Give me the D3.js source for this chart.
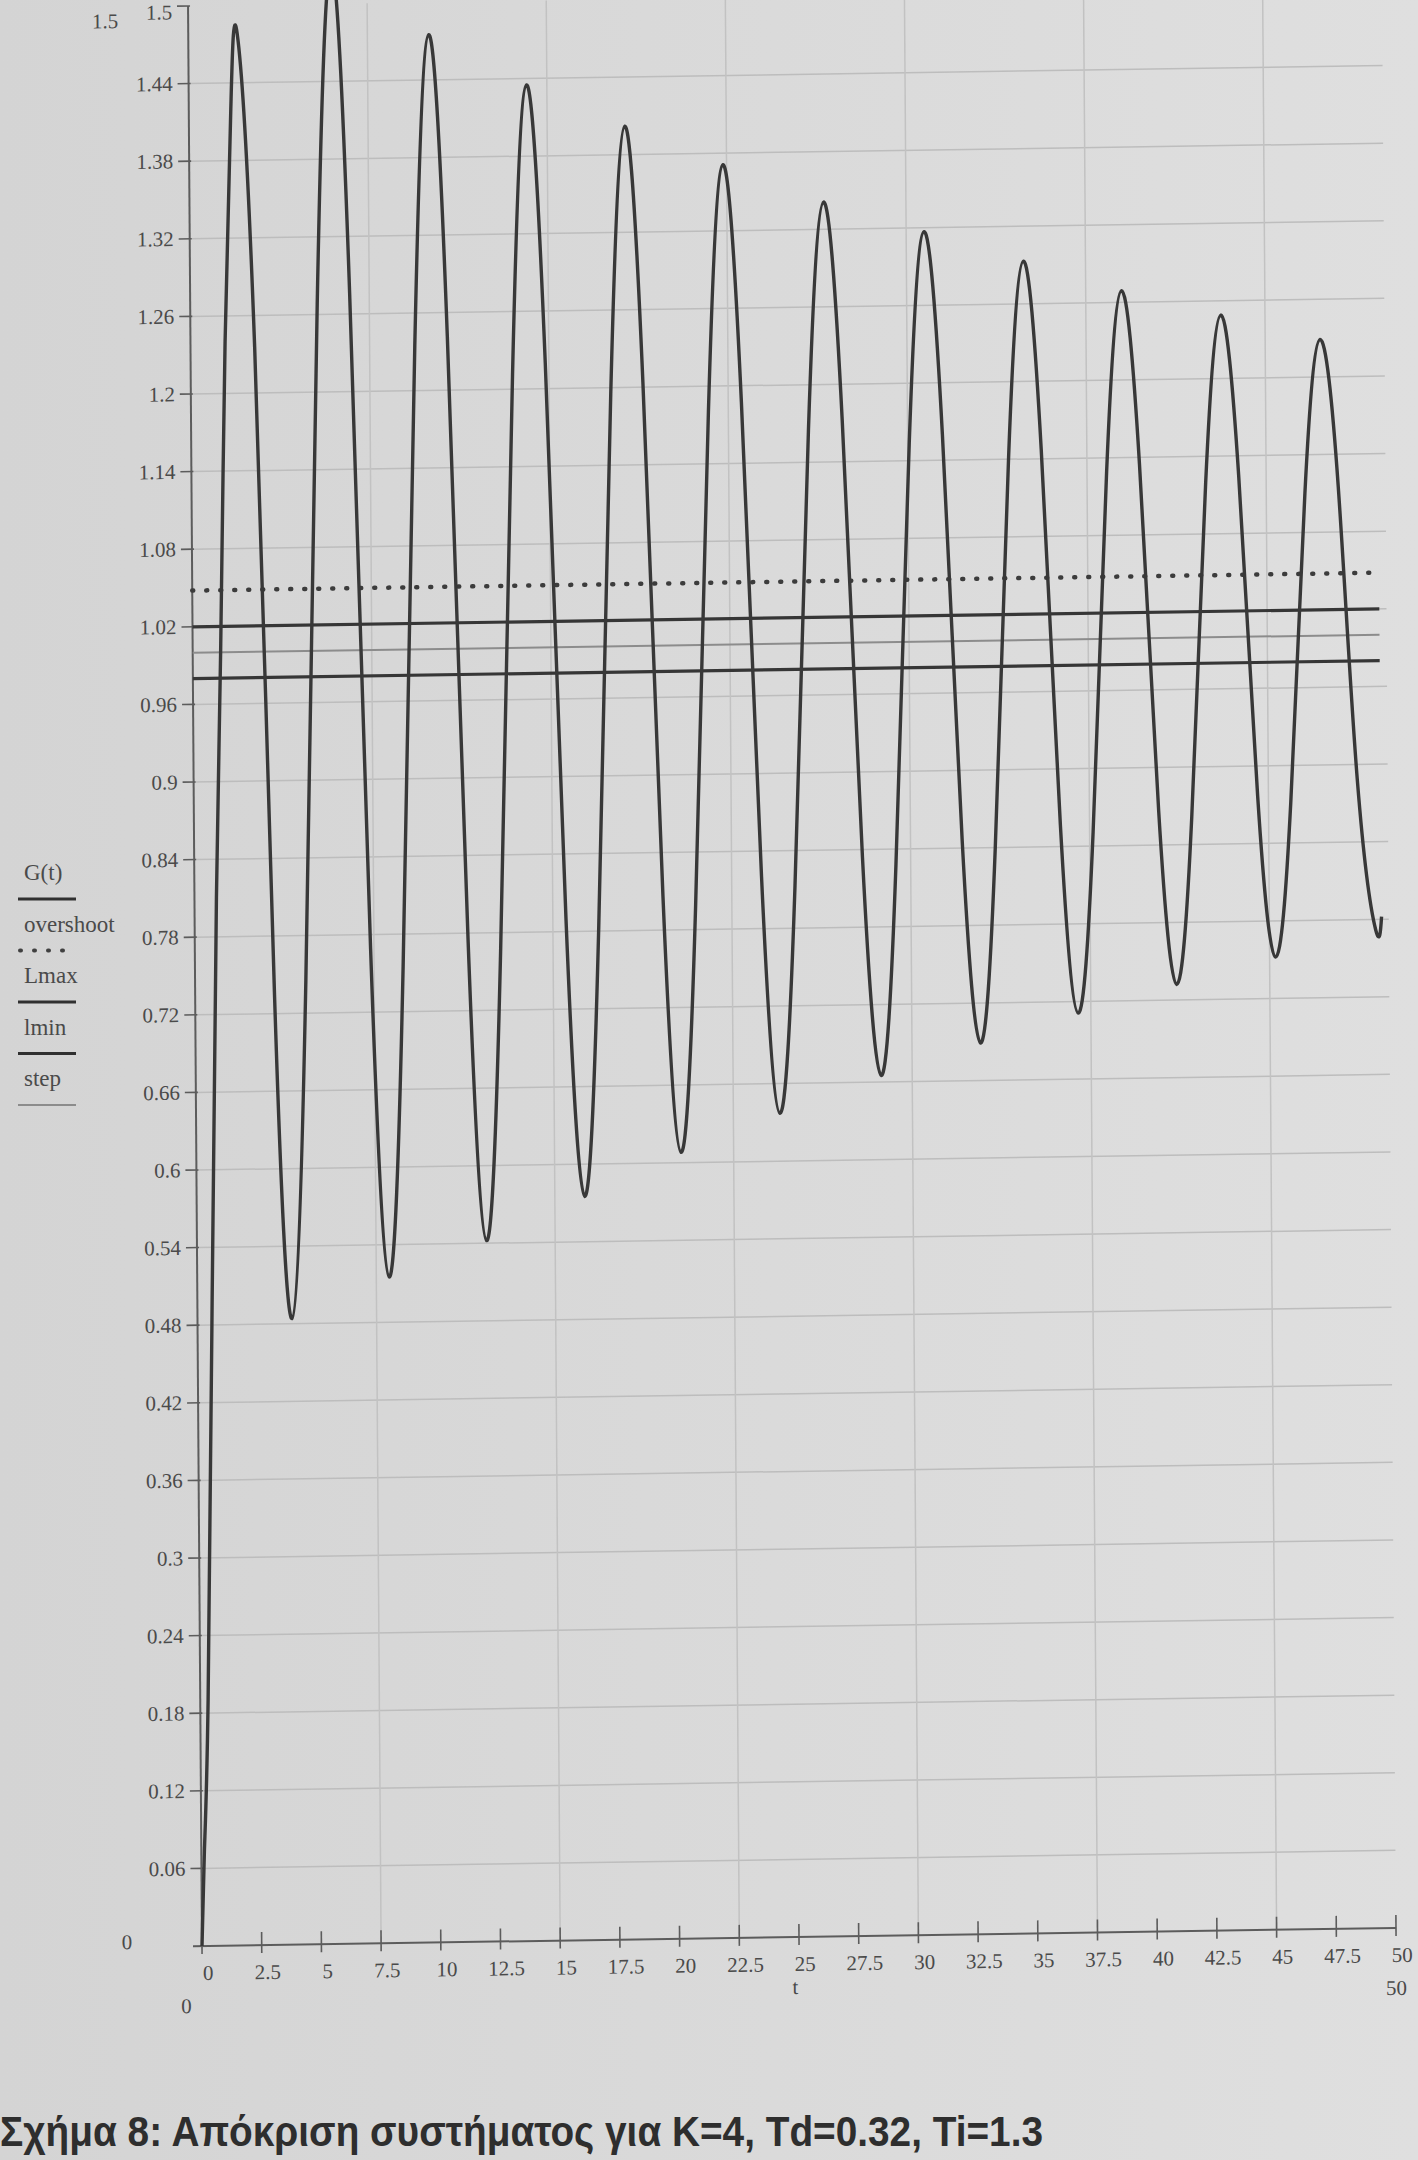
<!DOCTYPE html>
<html><head><meta charset="utf-8">
<script src="https://cdn.jsdelivr.net/npm/d3@7"></script>
<style>html,body{margin:0;padding:0;background:#d9d9d9;} svg{display:block}</style>
</head><body>
<svg id="c" width="1418" height="2160"></svg>
<script>
// ---- data ----
const xTicks = [0,2.5,5,7.5,10,12.5,15,17.5,20,22.5,25,27.5,30,32.5,35,37.5,40,42.5,45,47.5,50];
const yTicks = [0.06,0.12,0.18,0.24,0.3,0.36,0.42,0.48,0.54,0.6,0.66,0.72,0.78,0.84,0.9,0.96,1.02,1.08,1.14,1.2,1.26,1.32,1.38,1.44,1.5];
const xGrid = [7.5,15,22.5,30,37.5,45];
const yGrid = [0.06,0.12,0.18,0.24,0.3,0.36,0.42,0.48,0.54,0.6,0.66,0.72,0.78,0.84,0.9,0.96,1.02,1.08,1.14,1.2,1.26,1.32,1.38,1.44];
const gT = [0,0.13,0.33,0.62,0.92,1.17,1.45,1.76,2.05,
 2.687,3.323,3.96, 4.64,5.32,6.0, 6.68,7.36,8.04, 8.717,9.393,10.07,
 10.757,11.443,12.13, 12.803,13.477,14.15, 14.85,15.55,16.25, 16.917,17.583,18.25,
 18.933,19.617,20.3, 20.983,21.667,22.35, 23.05,23.75,24.45, 25.15,25.85,26.55,
 27.267,27.983,28.7, 29.383,30.067,30.75, 31.457,32.163,32.87, 33.547,34.223,34.9,
 35.59,36.28,36.97, 37.647,38.323,39.0, 39.7,40.4,41.1, 41.783,42.467,43.15,
 43.85,44.55,45.25, 45.933,46.617,47.3, 48.017,48.733,49.45, 49.7];
const gV = [0,0.074,0.19,0.5,0.81,1.0,1.24,1.42,1.478,
 1.2355,0.7345,0.484, 0.7455,1.2685,1.53, 1.276,0.769,0.515, 0.755,1.235,1.475,
 1.2418,0.7753,0.542, 0.7653,1.2118,1.435, 1.22,0.79,0.575, 0.7818,1.1953,1.402,
 1.2035,0.8065,0.608, 0.7988,1.1803,1.371, 1.1875,0.8205,0.637, 0.813,1.165,1.341,
 1.172,0.834,0.665, 0.828,1.154,1.317, 1.16,0.846,0.689, 0.84,1.142,1.293,
 1.1475,0.8565,0.711, 0.8505,1.1295,1.269, 1.1348,0.8663,0.732, 0.8613,1.1198,1.249,
 1.1248,0.8763,0.752, 0.8713,1.1098,1.229, 1.1148,0.8863,0.772, 0.782];
const levelNames = ["overshoot","Lmax","lmin","step"];
const levelValues = [1.048,1.02,0.98,1.0];
const levelSpan = [0,49.7];
const legendNames = ["G(t)","overshoot","Lmax","lmin","step"];
const caption = "Σχήμα 8: Απόκριση συστήματος για K=4, Td=0.32, Ti=1.3";

// ---- drawing ----
const svg = d3.select("#c");
const defs = svg.append("defs");
const grad = defs.append("linearGradient").attr("id","bg").attr("x1","0").attr("x2","1").attr("y1","0").attr("y2","0");
grad.append("stop").attr("offset","0").attr("stop-color","#d4d4d4");
grad.append("stop").attr("offset","1").attr("stop-color","#dfdfdf");
svg.append("rect").attr("width",1418).attr("height",2160).attr("fill","url(#bg)");

const W = 1194, H = 1940;
const x = d3.scaleLinear().domain([0,50]).range([0,W]);
const y = d3.scaleLinear().domain([0,1.5]).range([0,-H]);

// photo is slightly skewed: axis origin and shear
const g = svg.append("g").attr("transform","matrix(1,-0.0151,0.0072,1,202,1946)");

const serif = "'Liberation Serif','Times New Roman',serif";
const txt = "#4a4a4a";

// grid
g.selectAll(".hg").data(yGrid).join("line")
  .attr("x1",0).attr("x2",x(50)).attr("y1",d=>y(d)).attr("y2",d=>y(d))
  .attr("stroke","#bdbdbd").attr("stroke-width",1.5);
g.selectAll(".vg").data(xGrid).join("line")
  .attr("x1",d=>x(d)).attr("x2",d=>x(d)).attr("y1",0).attr("y2",y(1.5))
  .attr("stroke","#c2c2c2").attr("stroke-width",1.5);

// axes
const axisCol = "#5c5c5c";
g.append("line").attr("x1",-9).attr("x2",x(50)).attr("y1",0).attr("y2",0).attr("stroke",axisCol).attr("stroke-width",2);
g.append("line").attr("x1",0).attr("x2",0).attr("y1",0).attr("y2",y(1.5)).attr("stroke",axisCol).attr("stroke-width",2);
g.selectAll(".xt").data(xTicks).join("line")
  .attr("x1",d=>x(d)).attr("x2",d=>x(d)).attr("y1",-13).attr("y2",8)
  .attr("stroke",axisCol).attr("stroke-width",1.6);
g.selectAll(".yt").data(yTicks).join("line")
  .attr("x1",-11).attr("x2",2).attr("y1",d=>y(d)).attr("y2",d=>y(d))
  .attr("stroke",axisCol).attr("stroke-width",1.6);

g.selectAll(".xl").data(xTicks).join("text")
  .attr("x",d=>x(d)+6).attr("y",34).attr("text-anchor","middle")
  .attr("font-family",serif).attr("font-size",21).attr("fill",txt).text(d=>String(d));
g.selectAll(".yl").data(yTicks).join("text")
  .attr("x",-16).attr("y",d=>y(d)+(d===1.5?13:7)).attr("text-anchor","end")
  .attr("font-family",serif).attr("font-size",21).attr("fill",txt).text(d=>String(d));

// limit labels
g.append("text").attr("x",x(0)-75).attr("y",y(0)+2).attr("text-anchor","middle")
  .attr("font-family",serif).attr("font-size",21).attr("fill",txt).text("0");
g.append("text").attr("x",x(0)-83).attr("y",y(1.5)+21).attr("text-anchor","middle")
  .attr("font-family",serif).attr("font-size",21).attr("fill",txt).text("1.5");
g.append("text").attr("x",x(0)-16).attr("y",67).attr("text-anchor","middle")
  .attr("font-family",serif).attr("font-size",21).attr("fill",txt).text("0");
g.append("text").attr("x",x(50)).attr("y",67).attr("text-anchor","middle")
  .attr("font-family",serif).attr("font-size",21).attr("fill",txt).text("50");
g.append("text").attr("x",x(25)-4).attr("y",57).attr("text-anchor","middle")
  .attr("font-family",serif).attr("font-size",21).attr("fill",txt).text("t");

// level lines
const lvlStyle = {
  overshoot:{stroke:"#3c3c3c",w:4.5,dash:"1 13"},
  Lmax:{stroke:"#363636",w:3.2,dash:null},
  lmin:{stroke:"#363636",w:3.2,dash:null},
  step:{stroke:"#8c8c8c",w:2,dash:null}
};
levelNames.forEach((n,i)=>{
  const s = lvlStyle[n];
  g.append("line").attr("x1",x(levelSpan[0])).attr("x2",x(levelSpan[1]))
    .attr("y1",y(levelValues[i])).attr("y2",y(levelValues[i]))
    .attr("stroke",s.stroke).attr("stroke-width",s.w)
    .attr("stroke-dasharray",s.dash).attr("stroke-linecap", s.dash? "round":"butt");
});

// G(t)
const pts = gT.map((t,i)=>[t,gV[i]]);
const line = d3.line().x(d=>x(d[0])).y(d=>y(d[1])).curve(d3.curveNatural);
g.append("path").attr("d",line(pts)).attr("fill","none")
  .attr("stroke","#383838").attr("stroke-width",3.4).attr("stroke-linejoin","round");

// legend (left of the y axis)
const leg = svg.append("g");
const legStyle = [
  {stroke:"#303030",w:3.2,dash:null},
  {stroke:"#404040",w:4,dash:"1 13"},
  {stroke:"#303030",w:3.2,dash:null},
  {stroke:"#303030",w:3.2,dash:null},
  {stroke:"#8c8c8c",w:1.8,dash:null}
];
legendNames.forEach((n,i)=>{
  const ty = 880 + i*51.5;
  leg.append("text").attr("x",24).attr("y",ty).attr("font-family",serif).attr("font-size",23)
    .attr("fill",txt).text(n);
  const s = legStyle[i];
  leg.append("line").attr("x1",i==1?20:18).attr("x2",i==1?64:76).attr("y1",ty+19).attr("y2",ty+19)
    .attr("stroke",s.stroke).attr("stroke-width",s.w).attr("stroke-dasharray",s.dash)
    .attr("stroke-linecap",s.dash?"round":"butt");
});

// caption
svg.append("text").attr("x",0).attr("y",2146)
  .attr("font-family","'Liberation Sans',Arial,sans-serif").attr("font-weight","bold")
  .attr("font-size",42).attr("fill","#2e2e2e")
  .attr("textLength",1043).attr("lengthAdjust","spacingAndGlyphs")
  .text(caption);
</script>
</body></html>
